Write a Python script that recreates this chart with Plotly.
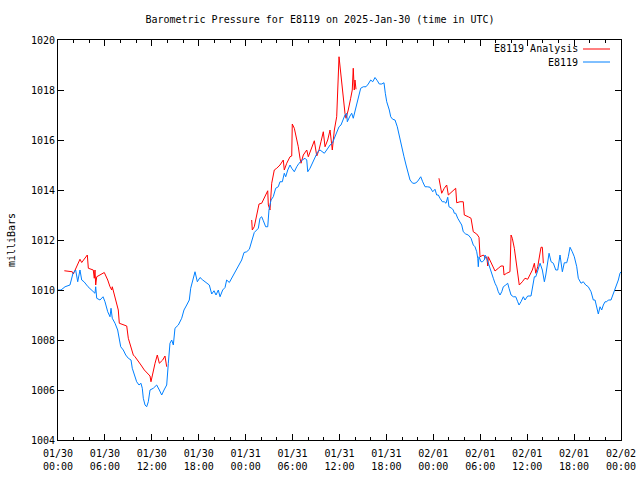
import pandas as pd
import plotly.graph_objects as go

TITLE = "Barometric Pressure for E8119 on 2025-Jan-30 (time in UTC)"
START = pd.Timestamp("2025-01-30 00:00")
HOURS_SPAN = 72
Y_RANGE = [1004, 1020]

# E8119 observed pressure (hours after START, millibars)
obs_hours = [0.0, 0.38, 0.9, 1.53, 1.92, 2.26, 2.52, 2.81, 3.03, 3.33, 3.84, 4.35, 4.73, 4.82, 4.95,
             5.37, 5.76, 6.01, 6.36, 6.65, 6.78, 6.94, 7.29, 7.63, 7.84, 8.02, 8.35, 8.66, 8.99, 9.34,
             9.5, 9.85, 10.06, 10.36, 10.61, 10.78, 10.91, 11.13, 11.34, 11.55, 11.77, 12.19, 12.62,
             12.96, 13.26, 13.56, 13.9, 14.11, 14.32, 14.54, 14.75, 14.96, 15.39, 15.82, 16.11, 16.46,
             16.79, 16.97, 17.23, 17.52, 17.82, 18.16, 18.51, 18.93, 19.35, 19.66, 19.95, 20.21, 20.5,
             20.72, 21.06, 21.36, 21.57, 21.91, 22.21, 22.64, 23.06, 23.49, 23.79, 24.13, 24.47, 24.85,
             25.1, 25.41, 25.62, 25.83, 26.05, 26.26, 26.56, 26.82, 26.98, 27.24, 27.53, 27.84, 28.17,
             28.39, 28.69, 28.94, 29.12, 29.38, 29.67, 29.89, 30.22, 30.53, 30.82, 31.24, 31.59, 31.81,
             31.94, 32.23, 32.52, 32.87, 33.21, 33.51, 33.8, 34.06, 34.36, 34.79, 35.08, 35.34, 35.64,
             35.94, 36.19, 36.49, 36.7, 36.92, 37.0, 37.34, 37.56, 37.76, 37.98, 38.2, 38.4, 38.71,
             39.04, 39.39, 39.68, 39.99, 40.25, 40.54, 40.84, 41.09, 41.4, 41.69, 41.86, 42.04, 42.37,
             42.55, 42.8, 43.1, 43.39, 43.65, 43.96, 44.25, 44.51, 44.8, 45.02, 45.36, 45.66, 45.95,
             46.21, 46.39, 46.64, 46.94, 47.23, 47.58, 47.92, 48.21, 48.43, 48.64, 48.85, 49.15, 49.4,
             49.62, 49.84, 50.0, 50.35, 50.55, 50.68, 50.86, 51.12, 51.41, 51.63, 51.83, 52.14, 52.47,
             52.82, 53.11, 53.33, 53.55, 53.68, 53.75, 53.84, 54.1, 54.26, 54.52, 54.61, 54.83, 55.03,
             55.25, 55.47, 55.67, 55.89, 56.11, 56.31, 56.53, 56.75, 56.95, 57.26, 57.51, 57.68, 57.94,
             58.23, 58.54, 58.79, 58.96, 59.21, 59.51, 59.72, 60.07, 60.49, 60.66, 60.92, 61.1, 61.35,
             61.65, 61.94, 62.2, 62.38, 62.63, 62.8, 63.06, 63.35, 63.66, 63.91, 64.2, 64.42, 64.5,
             64.75, 65.06, 65.26, 65.48, 65.77, 66.03, 66.34, 66.54, 66.89, 67.18, 67.49, 67.82, 68.17,
             68.46, 68.68, 68.9, 69.1, 69.32, 69.53, 69.74, 69.96, 70.17, 70.38, 70.72, 70.9, 71.15,
             71.45, 71.66, 71.87, 72.0]
obs_mb = [1010.0, 1010.0, 1010.13, 1010.2, 1010.67, 1010.8, 1010.33, 1010.8, 1010.4, 1010.33, 1010.13,
          1010.0, 1009.87, 1010.13, 1009.67, 1009.6, 1009.73, 1009.53, 1009.13, 1008.93, 1009.27,
          1008.87, 1008.67, 1008.4, 1008.07, 1007.73, 1007.6, 1007.4, 1007.27, 1007.2, 1006.87,
          1006.53, 1006.33, 1006.2, 1006.27, 1006.07, 1005.67, 1005.4, 1005.33, 1005.53, 1006.0,
          1006.07, 1006.2, 1006.0, 1005.8, 1006.0, 1006.2, 1007.07, 1007.87, 1008.0, 1007.8, 1008.47,
          1008.6, 1008.87, 1009.2, 1009.4, 1009.6, 1010.07, 1010.4, 1010.73, 1010.33, 1010.5, 1010.4,
          1010.3, 1010.2, 1009.84, 1009.97, 1009.8, 1010.0, 1009.73, 1010.0, 1010.1, 1010.4, 1010.3,
          1010.47, 1010.73, 1010.96, 1011.2, 1011.5, 1011.53, 1011.63, 1012.07, 1012.3, 1012.4,
          1012.47, 1012.87, 1012.93, 1012.77, 1012.53, 1012.53, 1013.2, 1013.6, 1013.73, 1014.07,
          1014.13, 1014.33, 1014.33, 1014.67, 1014.53, 1014.8, 1015.0, 1014.87, 1014.73, 1014.93,
          1015.07, 1015.2, 1015.27, 1015.2, 1014.73, 1014.87, 1015.07, 1015.33, 1015.53, 1015.6,
          1015.53, 1015.47, 1015.6, 1015.8, 1015.87, 1016.07, 1016.33, 1016.53, 1016.6, 1016.8,
          1017.0, 1017.07, 1016.73, 1016.96, 1017.07, 1016.87, 1017.13, 1017.4, 1017.73, 1018.07,
          1018.13, 1018.13, 1018.24, 1018.4, 1018.33, 1018.5, 1018.37, 1018.24, 1018.24, 1018.29,
          1017.87, 1017.53, 1017.2, 1016.93, 1016.83, 1016.8, 1016.53, 1016.13, 1015.73, 1015.33,
          1015.0, 1014.67, 1014.4, 1014.27, 1014.27, 1014.33, 1014.47, 1014.53, 1014.33, 1014.13,
          1014.13, 1014.11, 1013.93, 1014.03, 1013.8, 1013.8, 1013.67, 1013.53, 1013.53, 1013.47,
          1013.71, 1013.33, 1013.27, 1013.2, 1013.07, 1013.07, 1012.87, 1012.73, 1012.6, 1012.33,
          1012.24, 1012.2, 1012.07, 1011.8, 1011.73, 1011.53, 1011.27, 1010.93, 1011.33, 1011.13,
          1011.13, 1011.2, 1011.4, 1011.27, 1011.07, 1010.8, 1010.6, 1010.47, 1010.27, 1010.13,
          1009.93, 1009.8, 1009.93, 1010.13, 1010.2, 1010.27, 1010.07, 1009.8, 1009.73, 1009.73,
          1009.53, 1009.4, 1009.53, 1009.73, 1009.6, 1009.76, 1009.76, 1010.13, 1010.53, 1010.53,
          1010.8, 1011.07, 1010.8, 1010.33, 1010.6, 1011.07, 1011.47, 1011.13, 1011.07, 1010.8,
          1010.8, 1011.4, 1010.93, 1010.73, 1011.09, 1011.09, 1011.33, 1011.71, 1011.53, 1011.33,
          1010.93, 1010.47, 1010.27, 1010.33, 1010.2, 1010.13, 1009.93, 1009.6, 1009.6, 1009.27,
          1009.04, 1009.33, 1009.2, 1009.4, 1009.53, 1009.53, 1009.6, 1009.6, 1009.76, 1010.0,
          1010.2, 1010.4, 1010.67, 1010.73]

# E8119 Analysis pressure (None marks gaps between segments)
ana_hours = [0.81, 1.83, 1.96, 2.26, 2.6, 2.81, 3.03, 3.45, 3.75, 3.88, 4.51, 4.64, 4.73, 4.82, 4.95,
             5.92, 6.36, 6.65, 6.87, 6.94, 7.16, 7.42, 7.71, 7.84, 8.35, 8.79, 8.99, 9.34, 9.63, 9.85,
             10.19, 10.61, 11.04, 11.47, 11.77, 11.89, 12.06, 12.41, 12.7, 12.96, 13.39, 13.68, 13.9,
             None,
             24.77, 24.85, 25.1, 25.41, 25.71, 26.05, 26.38, 26.69, 26.82, 26.9, 27.11, 27.33, 27.66,
             27.97, 28.39, 28.81, 28.94, 29.25, 29.67, 29.89, 29.96, 30.22, 30.53, 30.73, 30.95, 31.08,
             31.37, 31.81, 32.01, 32.45, 32.78, 33.09, 33.38, 33.63, 33.93, 34.15, 34.49, 34.79, 35.08,
             35.34, 35.64, 35.94, 36.07, 36.28, 36.49, 36.7, 36.83, 37.12, 37.43, 37.63, 37.76, 37.89,
             37.98, 38.11,
             None,
             48.72, 48.85, 49.07, 49.4, 49.71, 49.92, 50.35, 50.68, 50.86, 50.99, 51.41, 51.83, 51.96,
             52.47, 52.82, 53.11, 53.55, 53.84, 53.97, 54.39, 54.7, 54.83, 54.96, 55.03, 55.38, 55.67,
             55.89, 56.31, 56.65, 56.95, 57.04, 57.38, 57.8, 57.94, 58.1, 58.36, 58.54, 58.79, 58.99,
             59.38, 59.72, 60.07, 60.36, 60.66, 60.92, 61.1, 61.35, 61.52, 61.77, 61.94, 62.07]
ana_mb = [1010.77, 1010.73, 1010.64, 1010.87, 1011.13, 1011.23, 1011.1, 1011.27, 1011.4, 1010.87,
          1010.8, 1010.47, 1010.8, 1010.2, 1010.53, 1010.7, 1010.4, 1010.13, 1010.0, 1010.13, 1009.87,
          1009.53, 1009.2, 1008.67, 1008.6, 1008.56, 1008.07, 1007.73, 1007.4, 1007.33, 1007.2,
          1007.0, 1006.8, 1006.64, 1006.56, 1006.33, 1006.6, 1007.07, 1007.4, 1007.07, 1007.2,
          1007.36, 1006.93,
          None,
          1012.8, 1012.4, 1012.53, 1013.07, 1013.44, 1013.47, 1013.67, 1013.87, 1013.97, 1013.4,
          1013.2, 1014.27, 1014.8, 1014.87, 1015.0, 1015.2, 1014.8, 1015.07, 1015.33, 1015.36,
          1016.64, 1016.47, 1016.07, 1015.73, 1015.27, 1015.07, 1015.4, 1015.6, 1015.33, 1015.67,
          1015.97, 1015.36, 1015.6, 1015.93, 1016.33, 1015.73, 1016.0, 1016.4, 1015.6, 1016.4,
          1016.93, 1019.33, 1018.9, 1018.27, 1017.47, 1017.07, 1016.87, 1017.2, 1017.67, 1018.0,
          1018.87, 1018.0, 1018.4, 1018.03,
          None,
          1014.47, 1014.27, 1013.87, 1014.07, 1014.2, 1013.8, 1013.93, 1014.0, 1014.07, 1013.49,
          1013.53, 1013.53, 1013.0, 1012.93, 1012.87, 1012.33, 1012.24, 1012.11, 1011.33, 1011.4,
          1011.27, 1011.33, 1010.96, 1011.33, 1011.07, 1010.87, 1010.76, 1010.87, 1010.96, 1010.96,
          1010.6, 1010.67, 1010.73, 1012.2, 1012.07, 1011.67, 1011.2, 1010.53, 1010.2, 1010.33,
          1010.47, 1010.43, 1010.6, 1010.8, 1011.07, 1010.67, 1010.93, 1011.33, 1011.71, 1011.71,
          1011.07]

SERIES_NAMES = ["E8119 Analysis", "E8119"]
SERIES_COLORS = ["#ff0000", "#0080ff"]


def to_time(hours):
    return [None if h is None else START + pd.Timedelta(hours=h) for h in hours]


FONT = "DejaVu Sans Mono, Liberation Mono, monospace"

fig = go.Figure()
fig.add_trace(go.Scatter(x=to_time(ana_hours), y=ana_mb, mode="lines", name=SERIES_NAMES[0],
                         line=dict(color=SERIES_COLORS[0], width=1), connectgaps=False,
                         showlegend=False))
fig.add_trace(go.Scatter(x=to_time(obs_hours), y=obs_mb, mode="lines", name=SERIES_NAMES[1],
                         line=dict(color=SERIES_COLORS[1], width=1), showlegend=False))

# gnuplot-style key: text right-aligned, line sample on the right
for i, (name, color) in enumerate(zip(SERIES_NAMES, SERIES_COLORS)):
    ypix = 9 + 13 * i
    fig.add_annotation(xref="paper", yref="paper", x=(580 - 58) / 563, y=1 - ypix / 400,
                       text=name, showarrow=False, xanchor="right", yanchor="middle",
                       font=dict(family=FONT, size=10, color="black"))
    fig.add_shape(type="line", xref="paper", yref="paper",
                  x0=(583 - 58) / 563, x1=(610 - 58) / 563,
                  y0=1 - ypix / 400, y1=1 - ypix / 400,
                  line=dict(color=color, width=1))

end = START + pd.Timedelta(hours=HOURS_SPAN)
fig.update_layout(
    width=640, height=480,
    margin=dict(l=58, r=19, t=40, b=40, autoexpand=False),
    paper_bgcolor="white", plot_bgcolor="white",
    font=dict(family=FONT, size=10, color="black"),
    title=dict(text=TITLE, x=0.5, xanchor="center", y=1 - 19 / 480, yanchor="middle",
               font=dict(family=FONT, size=10, color="black")),
    showlegend=False,
)
fig.update_xaxes(
    type="date", range=[START, end], automargin=False,
    tick0=START, dtick=6 * 3600 * 1000, tickformat="%m/%d<br>%H:%M",
    ticks="inside", ticklen=6, tickcolor="black", tickwidth=1, ticklabelstandoff=4,
    minor=dict(dtick=2 * 3600 * 1000, ticks="inside", ticklen=3, tickcolor="black"),
    showline=True, linecolor="black", linewidth=1, mirror="allticks",
    showgrid=False, zeroline=False, tickfont=dict(family=FONT, size=10, color="black"),
)
fig.update_yaxes(
    range=Y_RANGE, dtick=2, tick0=1004, automargin=False,
    ticks="inside", ticklen=6, tickcolor="black", tickwidth=1,
    showline=True, linecolor="black", linewidth=1, mirror="allticks",
    showgrid=False, zeroline=False, tickfont=dict(family=FONT, size=10, color="black"),
    title=dict(text="milliBars", font=dict(family=FONT, size=10, color="black"), standoff=13),
)

fig.write_html("out.html", config={"displayModeBar": False},
               post_script="document.body.style.margin='0';")
